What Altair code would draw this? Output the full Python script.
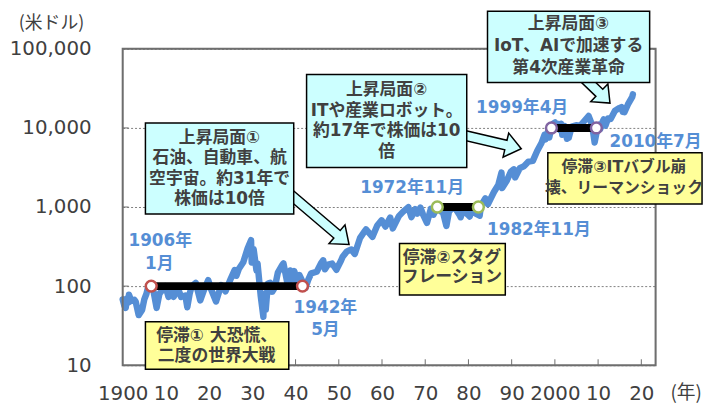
import altair as alt
import pandas as pd

# ---- data (Dow Jones Industrial Average, USD, log scale) ----
years = [1900.0, 1900.4, 1900.7, 1901.0, 1901.35, 1901.45, 1902.0, 1902.7, 1903.0, 1903.7,
         1904.5, 1905.0, 1905.5, 1906.0, 1906.6, 1907.0, 1907.85, 1908.5, 1909.9, 1910.6,
         1911.0, 1911.5, 1911.8, 1912.8, 1913.5, 1914.5, 1914.95, 1915.5, 1915.95, 1916.9,
         1917.95, 1918.8, 1919.8, 1920.5, 1921.6, 1922.8, 1923.8, 1924.9, 1925.9, 1926.3,
         1926.9, 1927.9, 1928.9, 1929.7, 1929.85, 1930.3, 1930.95, 1931.2, 1931.95, 1932.55,
         1932.7, 1933.1, 1933.6, 1934.1, 1934.6, 1935.2, 1935.9, 1936.9, 1937.2, 1938.25,
         1938.8, 1939.3, 1939.7, 1940.45, 1940.9, 1941.9, 1942.3, 1942.9, 1943.6, 1944.9,
         1945.9, 1946.4, 1946.8, 1947.5, 1948.45, 1949.45, 1950.5, 1950.9, 1951.9, 1952.9,
         1953.7, 1954.9, 1955.9, 1956.3, 1957.8, 1958.9, 1959.9, 1960.8, 1961.9, 1962.5,
         1963.9, 1964.9, 1966.1, 1966.8, 1967.7, 1968.2, 1968.9, 1969.5, 1970.4, 1971.3,
         1971.9, 1972.9, 1973.05, 1973.6, 1973.9, 1974.9, 1975.5, 1976.7, 1977.9, 1978.2,
         1978.7, 1979.9, 1980.3, 1980.9, 1981.3, 1981.7, 1982.6, 1982.9, 1983.9, 1984.5,
         1984.9, 1985.9, 1986.9, 1987.65, 1987.8, 1988.9, 1989.8, 1990.5, 1990.8, 1991.9,
         1992.9, 1993.9, 1994.9, 1995.9, 1996.9, 1997.6, 1997.85, 1998.5, 1998.7, 1999.3,
         1999.6, 2000.05, 2000.2, 2000.7, 2001.2, 2001.45, 2001.7, 2002.2, 2002.8, 2003.2,
         2003.9, 2004.9, 2005.9, 2006.9, 2007.8, 2008.5, 2008.9, 2009.2, 2009.9, 2010.3,
         2010.5, 2010.9, 2011.3, 2011.7, 2012.3, 2012.9, 2013.9, 2014.9, 2015.4, 2015.7,
         2016.1, 2016.9, 2017.9, 2018.05]
values = [68, 56, 53, 70, 62, 78, 65, 67, 64, 43,
          50, 68, 80, 103, 92, 94, 53, 80, 100, 73,
          82, 87, 73, 94, 73, 76, 54, 80, 99, 110,
          66, 89, 119, 90, 64, 103, 86, 120, 160, 135,
          166, 200, 300, 381, 199, 294, 158, 194, 74, 41,
          79, 50, 108, 110, 85, 96, 148, 184, 194, 99,
          158, 121, 155, 112, 138, 106, 95, 119, 145, 152,
          195, 212, 163, 187, 193, 161, 209, 235, 275, 290,
          255, 404, 488, 521, 420, 583, 679, 566, 735, 536,
          767, 874, 995, 744, 943, 825, 985, 800, 631, 950,
          798, 1020, 1051, 880, 950, 577, 880, 1014, 800, 742,
          907, 800, 759, 1000, 1024, 824, 777, 1040, 1287, 1086,
          1200, 1550, 1900, 2722, 1738, 2160, 2790, 2999, 2365, 3100,
          3300, 3750, 3830, 5100, 6450, 8200, 7160, 9337, 7540, 10700,
          11300, 11720, 9800, 11300, 9400, 11300, 8200, 10600, 7286, 7500,
          10400, 10800, 10700, 12400, 14164, 11300, 8500, 6550, 10400, 11000,
          9700, 11500, 12800, 10700, 13200, 13000, 16500, 17800, 18300, 16000,
          15800, 19800, 24700, 26600]

# stagnation periods (start, end, level)
seg_start = [1906.6, 1972.8, 1999.2]
seg_end = [1941.6, 1982.3, 2009.6]
seg_level = [100, 1000, 10000]
seg_color = ["#C0504D", "#9BBB59", "#8064A2"]

x_ticks = [1900, 1910, 1920, 1930, 1940, 1950, 1960, 1970, 1980, 1990, 2000, 2010, 2020]
y_ticks = [10, 100, 1000, 10000, 100000]

box1_lines = ["上昇局面①", "石油、自動車、航", "空宇宙。約31年で", "株価は10倍"]
box2_lines = ["上昇局面②", "ITや産業ロボット。", "約17年で株価は10", "倍"]
box3_lines = ["上昇局面③", "IoT、AIで加速する", "第4次産業革命"]
ybox1_lines = ["停滞① 大恐慌、", "二度の世界大戦"]
ybox2_lines = ["停滞②スタグ", "フレーション"]
ybox3_lines = ["停滞③ITバブル崩", "壊、リーマンショック"]
date_labels = ["1906年", "1月", "1942年", "5月", "1972年11月", "1982年11月", "1999年4月", "2010年7月"]

W, H = 539, 320
BLUE = "#558ED5"
GRAY = "#404040"
FONT = "DejaVu Sans, Noto Sans CJK JP"

line_df = pd.DataFrame({"year": years, "value": values})
seg_df = pd.DataFrame({"start": seg_start, "end": seg_end, "level": seg_level, "color": seg_color})
mk_df = pd.DataFrame({
    "year": seg_start + seg_end,
    "level": seg_level + seg_level,
    "color": seg_color + seg_color,
})
one = pd.DataFrame({"a": [0]})

xs = alt.Scale(domain=[1900, 2023.3], nice=False, zero=False)
ys = alt.Scale(type="log", domain=[10, 100000], nice=False)

label_expr = ("datum.value == 1900 || datum.value == 2000 ? toString(datum.value) "
              ": substring(toString(datum.value), 2)")

line = alt.Chart(line_df).mark_line(color=BLUE, strokeWidth=6.5, strokeJoin="round", strokeCap="round").encode(
    x=alt.X("year:Q", scale=xs, axis=alt.Axis(
        values=x_ticks, labelExpr=label_expr, title=None, grid=False, domain=False,
        ticks=False, tickSize=0, labelPadding=19, labelFontSize=20, labelFont="DejaVu Sans",
        labelColor=GRAY, labelOverlap=False, labelFlush=False, labelBound=False)),
    y=alt.Y("value:Q", scale=ys, axis=alt.Axis(
        values=y_ticks, format=",", title=None, grid=True, gridColor="#7F7F7F",
        gridDash=[2, 2], gridWidth=1, domain=False, ticks=False, tickSize=0,
        labelPadding=32, labelFontSize=20, labelFont="DejaVu Sans", labelColor=GRAY)),
)

frame = alt.Chart(one).mark_rect(fill="transparent", stroke="#6E6E6E", strokeWidth=2).encode(
    x=alt.value(0), x2=alt.value(W), y=alt.value(0), y2=alt.value(H))

xtick_df = pd.DataFrame({"t": x_ticks[1:-1] + [2020]})
xticks = alt.Chart(xtick_df).mark_rule(color="#6E6E6E", strokeWidth=1).encode(
    x=alt.X("t:Q", scale=xs), y=alt.value(H), y2=alt.value(H - 6))
ytick_df = pd.DataFrame({"v": [100, 1000, 10000]})
yticks = alt.Chart(ytick_df).mark_rule(color="#6E6E6E", strokeWidth=1).encode(
    y=alt.Y("v:Q", scale=ys), x=alt.value(0), x2=alt.value(6))

bars = alt.Chart(seg_df).mark_rule(color="black", strokeWidth=8).encode(
    x=alt.X("start:Q", scale=xs), x2="end:Q", y=alt.Y("level:Q", scale=ys))
markers = alt.Chart(mk_df).mark_point(shape="circle", filled=True, fill="white", size=120,
                                      strokeWidth=2.5, opacity=1).encode(
    x=alt.X("year:Q", scale=xs), y=alt.Y("level:Q", scale=ys),
    stroke=alt.Stroke("color:N", scale=None))


def arrow(cx, cy, length, half_shaft, half_head, head_len, angle):
    u = length / 2.0
    s = half_shaft / u
    h = half_head / u
    b = 1 - head_len / u
    path = (f"M -1 {-s:.3f} L {b:.3f} {-s:.3f} L {b:.3f} {-h:.3f} L 1 0 "
            f"L {b:.3f} {h:.3f} L {b:.3f} {s:.3f} L -1 {s:.3f} Z")
    return alt.Chart(one).mark_point(shape=path, size=length * length, angle=angle, filled=True,
                                     fill="#CCFFFF", stroke="black", strokeWidth=1.5,
                                     opacity=1).encode(x=alt.value(cx), y=alt.value(cy))


def box(x1, y1, x2, y2, fill):
    return alt.Chart(one).mark_rect(fill=fill, stroke="black", strokeWidth=1.5).encode(
        x=alt.value(x1), x2=alt.value(x2), y=alt.value(y1), y2=alt.value(y2))


def mtext(lines, cx, cy, lh, size=17, color=GRAY):
    first = cy - (len(lines) - 1) * lh / 2.0
    return alt.Chart(one).mark_text(font=FONT, fontSize=size, fontWeight="bold", color=color,
                                    align="center", baseline="middle", lineHeight=lh).encode(
        x=alt.value(cx), y=alt.value(first), text=alt.value(lines))


def label(t, cx, cy):
    return alt.Chart(one).mark_text(font=FONT, fontSize=17, fontWeight="bold", color=BLUE,
                                    align="center", baseline="middle").encode(
        x=alt.value(cx), y=alt.value(cy), text=alt.value(t))


arrows = [
    arrow(198.5, 172, 80, 5, 12.5, 16, 40.4),
    arrow(372, 93.7, 64, 5, 12.5, 16, 13.2),
    arrow(478.5, 41, 40, 5, 12.5, 15, 44),
]
boxes = [
    box(23, 75, 173, 167, "#CCFFFF"), mtext(box1_lines, 98, 121, 20.8),
    box(186, 26, 348, 120, "#CCFFFF"), mtext(box2_lines, 267, 73, 21),
    box(369, -38, 533, 34, "#CCFFFF"), mtext(box3_lines, 451, -3, 22),
    box(23, 276, 168, 324, "#FFFF99"), mtext(ybox1_lines, 95, 300.5, 19.7),
    box(280, 197, 387, 249, "#FFFF99"), mtext(ybox2_lines, 333, 221.3, 20),
    box(430, 105, 586, 157, "#FFFF99"), mtext(ybox3_lines, 507, 130.5, 21.6, size=16),
]
labels = [
    label(date_labels[0], 38, 194.7), label(date_labels[1], 37, 218),
    label(date_labels[2], 205, 262), label(date_labels[3], 205, 284),
    label(date_labels[4], 292.7, 141.3), label(date_labels[5], 421, 183),
    label(date_labels[6], 404, 59.7), label(date_labels[7], 539, 94.7),
]
titles = [
    alt.Chart(one).mark_text(font="Noto Sans CJK JP", fontSize=18, color=GRAY, align="center",
                             baseline="middle").encode(x=alt.value(-72), y=alt.value(-25),
                                                      text=alt.value("(米ドル)")),
    alt.Chart(one).mark_text(font="Noto Sans CJK JP", fontSize=19, color=GRAY, align="center",
                             baseline="middle").encode(x=alt.value(570), y=alt.value(348),
                                                      text=alt.value("(年)")),
]

chart = alt.layer(line, frame, xticks, yticks, bars, markers, *arrows, *boxes, *labels, *titles).properties(
    width=W, height=H,
    autosize=alt.AutoSizeParams(type="none"),
    padding={"left": 116, "top": 39, "right": 51, "bottom": 42},
).configure_view(strokeWidth=0).configure(background="white")

chart.save("out.html", embed_options={"renderer": "svg", "actions": False})
